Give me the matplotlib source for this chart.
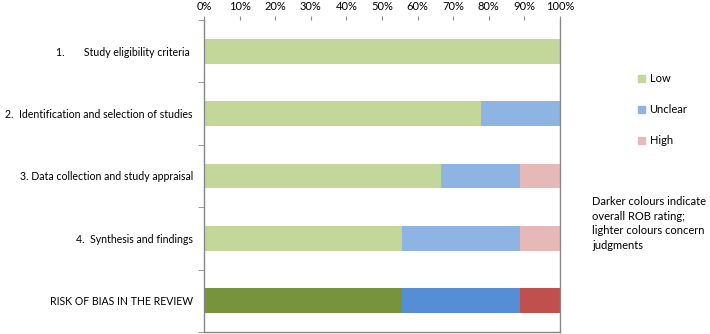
import numpy as np
import matplotlib.pyplot as plt
from matplotlib.patches import Patch
from matplotlib.ticker import FixedLocator, PercentFormatter

plt.rcParams['font.family'] = ['Lato', 'DejaVu Sans']

# -- Data (percent of 9 studies) --
domains = ["1.       Study eligibility criteria ",
           "2.  Identification and selection of studies",
           "3. Data collection and study appraisal",
           "4.  Synthesis and findings",
           "RISK OF BIAS IN THE REVIEW"]
low = [100.0, 77.8, 66.7, 55.6, 55.6]
unclear = [0.0, 22.2, 22.2, 33.3, 33.3]
high = [0.0, 0.0, 11.1, 11.1, 11.1]

light = ["#C4D79B", "#8DB4E2", "#E6B9B8"]
dark = ["#77933C", "#558ED5", "#C0504D"]

fig = plt.figure(figsize=(7.1, 3.34), dpi=100)
ax = fig.add_axes([204/710, 2/334, 356/710, 312/334])

y = np.arange(len(domains))
for i in y:
    cols = dark if i == len(domains) - 1 else light
    left = 0
    for val, c in zip([low[i], unclear[i], high[i]], cols):
        ax.barh(i, val, left=left, height=0.4, color=c, edgecolor='none')
        left += val

ax.set_xlim(0, 100)
ax.set_ylim(len(domains) - 0.5, -0.5)
ax.xaxis.tick_top()
ax.set_xticks(np.arange(0, 101, 10))
ax.xaxis.set_major_formatter(PercentFormatter(decimals=0))
ax.tick_params(axis='x', length=3, color='#888888', labelsize=8, pad=3)
ax.set_yticks(y)
ax.set_yticklabels(domains, fontsize=7.6)
ax.tick_params(axis='y', which='major', length=0, pad=8)
ax.yaxis.set_minor_locator(FixedLocator(np.arange(-0.5, len(domains), 1)))
ax.tick_params(axis='y', which='minor', length=4, color='#888888')
ax.spines['top'].set_visible(False)
for s in ['left', 'right', 'bottom']:
    ax.spines[s].set_color('#888888')
    ax.spines[s].set_linewidth(1.0)

handles = [Patch(color=c) for c in light]
fig.legend(handles, ["Low", "Unclear", "High"], loc='upper left',
           bbox_to_anchor=(634/710, 1 - 69/334), frameon=False,
           fontsize=8, handlelength=0.6, handleheight=0.6,
           handletextpad=0.4, labelspacing=1.8, borderaxespad=0)

fig.text(592/710, 1 - 196/334,
         "Darker colours indicate\noverall ROB rating;\nlighter colours concern\njudgments",
         fontsize=8, va='top', ha='left', linespacing=1.4)

fig.savefig("out.png", dpi=100)
